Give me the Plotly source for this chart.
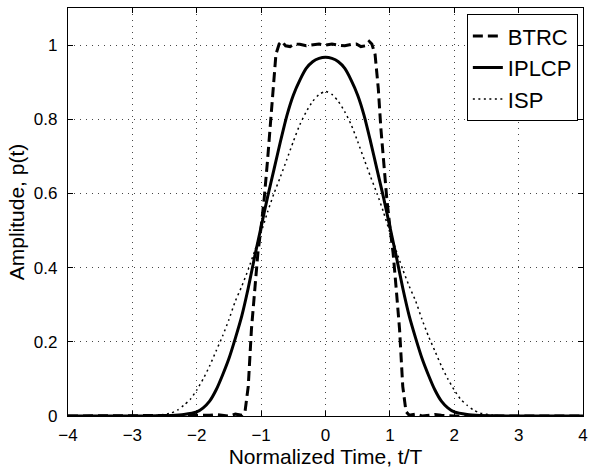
import plotly.graph_objects as go

# ---- data ----
btrc_t = [-4.0, -2.0, -1.8, -1.7, -1.6, -1.5, -1.4, -1.3, -1.25, -1.2, -1.15, -1.1, -1.05, -1.0,
          -0.95, -0.9, -0.86, -0.82, -0.77, -0.72, -0.68, -0.62, -0.55, -0.48, -0.4, -0.3, -0.2, -0.1,
          0.0, 0.1, 0.2, 0.3, 0.4, 0.48, 0.55, 0.62, 0.68, 0.72, 0.77, 0.82, 0.86, 0.9, 0.95, 1.0,
          1.05, 1.1, 1.15, 1.2, 1.25, 1.3, 1.4, 1.5, 1.6, 1.7, 1.8, 2.0, 4.0]
btrc_p = [0.0, 0.0, 0.002, 0.004, 0.001, 0.0, 0.005, 0.002, 0.012, 0.08, 0.235, 0.34, 0.44, 0.51,
          0.59, 0.69, 0.776, 0.883, 0.975, 1.003, 1.01, 0.998, 0.996, 1.003, 1.002, 0.998, 1.0, 1.003,
          1.0, 1.003, 1.0, 0.998, 1.002, 1.003, 0.996, 0.998, 1.01, 1.003, 0.975, 0.883, 0.776, 0.69,
          0.59, 0.51, 0.44, 0.34, 0.235, 0.08, 0.012, 0.002, 0.005, 0.0, 0.001, 0.004, 0.002, 0.0, 0.0]

iplcp_t = [-4.0, -3.0, -2.6, -2.4, -2.2, -2.0, -1.9, -1.8, -1.7, -1.6, -1.5, -1.4, -1.3, -1.2, -1.1,
           -1.0, -0.9, -0.8, -0.7, -0.6, -0.5, -0.4, -0.3, -0.2, -0.1, 0.0, 0.1, 0.2, 0.3, 0.4, 0.5,
           0.6, 0.7, 0.8, 0.9, 1.0, 1.1, 1.2, 1.3, 1.4, 1.5, 1.6, 1.7, 1.8, 1.9, 2.0, 2.2, 2.4, 2.6,
           3.0, 4.0]
iplcp_p = [0.0, 0.0, 0.0005, 0.0015, 0.004, 0.011, 0.022, 0.04, 0.07, 0.11, 0.155, 0.21, 0.27, 0.345,
           0.43, 0.51, 0.59, 0.665, 0.74, 0.81, 0.865, 0.905, 0.937, 0.955, 0.964, 0.967, 0.964, 0.955,
           0.937, 0.905, 0.865, 0.81, 0.74, 0.665, 0.59, 0.51, 0.43, 0.345, 0.27, 0.21, 0.155, 0.11,
           0.07, 0.04, 0.022, 0.011, 0.004, 0.0015, 0.0005, 0.0, 0.0]

isp_t = [-4.0, -3.0, -2.8, -2.6, -2.4, -2.3, -2.2, -2.1, -2.0, -1.9, -1.8, -1.7, -1.6, -1.5, -1.4,
         -1.3, -1.2, -1.1, -1.0, -0.9, -0.8, -0.7, -0.6, -0.5, -0.4, -0.3, -0.2, -0.1, 0.0, 0.1, 0.2,
         0.3, 0.4, 0.5, 0.6, 0.7, 0.8, 0.9, 1.0, 1.1, 1.2, 1.3, 1.4, 1.5, 1.6, 1.7, 1.8, 1.9, 2.0,
         2.1, 2.2, 2.3, 2.4, 2.6, 2.8, 3.0, 4.0]
isp_p = [0.0, 0.0, 0.0, 0.002, 0.008, 0.016, 0.029, 0.045, 0.07, 0.1, 0.135, 0.175, 0.215, 0.26,
         0.31, 0.35, 0.395, 0.445, 0.495, 0.55, 0.6, 0.645, 0.692, 0.74, 0.785, 0.82, 0.848, 0.867,
         0.875, 0.867, 0.848, 0.82, 0.785, 0.74, 0.692, 0.645, 0.6, 0.55, 0.495, 0.445, 0.395, 0.35,
         0.31, 0.26, 0.215, 0.175, 0.135, 0.1, 0.07, 0.045, 0.029, 0.016, 0.008, 0.002, 0.0, 0.0, 0.0]

x_ticks = [-4, -3, -2, -1, 0, 1, 2, 3, 4]
y_ticks = [0, 0.2, 0.4, 0.6, 0.8, 1]
y_tick_labels = ["0", "0.2", "0.4", "0.6", "0.8", "1"]

FONT = "Liberation Sans, Arial, Helvetica, sans-serif"

fig = go.Figure()
fig.add_trace(go.Scatter(x=btrc_t, y=btrc_p, mode="lines", name="BTRC",
                         line=dict(color="black", width=3, dash="10px,5px")))
fig.add_trace(go.Scatter(x=iplcp_t, y=iplcp_p, mode="lines", name="IPLCP",
                         line=dict(color="black", width=3, shape="spline", smoothing=0.6)))
fig.add_trace(go.Scatter(x=isp_t, y=isp_p, mode="lines", name="ISP",
                         line=dict(color="black", width=1.5, dash="2px,3.5px", shape="spline",
                                   smoothing=0.6)))

axis_common = dict(
    showline=True, linecolor="black", linewidth=1.3, mirror="ticks",
    ticks="inside", ticklen=5, tickcolor="black", tickwidth=1,
    showgrid=True, gridcolor="rgb(70,70,70)", gridwidth=1, griddash="1px,5px",
    zeroline=False, tickfont=dict(family=FONT, size=17, color="black"),
)

fig.update_xaxes(range=[-4, 4], tickvals=x_ticks,
                 title=dict(text="Normalized Time, t/T", font=dict(family=FONT, size=21, color="black"),
                            standoff=2),
                 ticklabelstandoff=3, **axis_common)
fig.update_yaxes(range=[0, 1.1], tickvals=y_ticks, ticktext=y_tick_labels,
                 title=dict(text="Amplitude, p(t)", font=dict(family=FONT, size=21, color="black"),
                            standoff=3),
                 ticklabelstandoff=6, **axis_common)

fig.update_layout(
    width=595, height=468,
    margin=dict(l=68, r=7, t=8, b=47),
    paper_bgcolor="white", plot_bgcolor="white",
    font=dict(family=FONT, color="black"),
    legend=dict(x=0.99, y=0.985, xanchor="right", yanchor="top",
                bgcolor="white", bordercolor="black", borderwidth=1,
                font=dict(family=FONT, size=22, color="black"),
                tracegroupgap=0),
    showlegend=True,
)

fig.write_html("out.html")
